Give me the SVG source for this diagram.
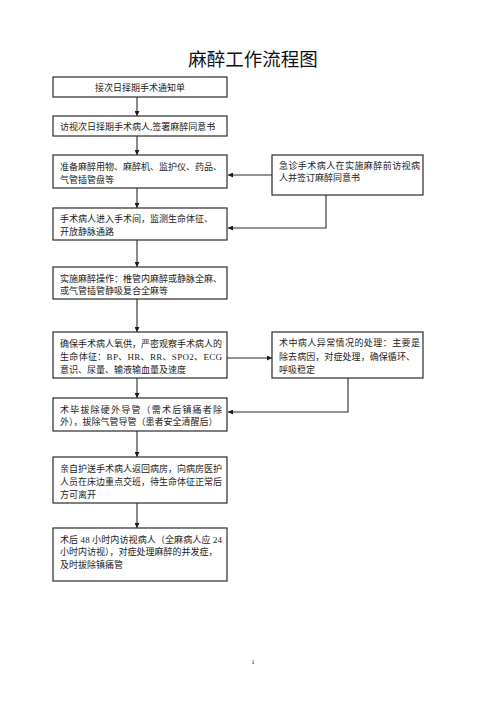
<svg xmlns="http://www.w3.org/2000/svg" width="500" height="707" viewBox="0 0 500 707">
<defs>
<marker id="ah" viewBox="0 0 10 10" refX="10" refY="5" markerWidth="5" markerHeight="5" orient="auto" markerUnits="userSpaceOnUse">
<path d="M0,0 L10,5 L0,10 z" fill="#1a1a1a"/>
</marker>
<style>
.box{fill:#fff;stroke:#2a2a2a;stroke-width:1.2}
.t{font-family:"Liberation Serif","Noto Sans CJK SC",serif;font-size:9px;fill:#222}
.c{fill:none;stroke:#2a2a2a;stroke-width:1.1;marker-end:url(#ah)}
</style>
</defs>
<rect width="500" height="707" fill="#fff"/>
<text x="253" y="66" text-anchor="middle" style="font-family:'Noto Sans CJK SC',sans-serif;font-size:18.5px;fill:#111">麻醉工作流程图</text>

<g id="connectors">
<line class="c" x1="137" y1="97" x2="137" y2="116"/>
<line class="c" x1="137" y1="136" x2="137" y2="155"/>
<line class="c" x1="272" y1="175" x2="228" y2="175"/>
<polyline class="c" points="326,195 326,228 228,228"/>
<line class="c" x1="137" y1="188" x2="137" y2="208"/>
<line class="c" x1="137" y1="240" x2="137" y2="267"/>
<line class="c" x1="137" y1="299" x2="137" y2="332"/>
<line class="c" x1="227" y1="358" x2="272" y2="358"/>
<polyline class="c" points="348,378 348,412 228,412"/>
<line class="c" x1="137" y1="378" x2="137" y2="398"/>
<line class="c" x1="137" y1="431" x2="137" y2="457"/>
<line class="c" x1="137" y1="503" x2="137" y2="528"/>
</g>

<g id="n1">
<rect class="box" x="53" y="77" width="174" height="20"/>
<text class="t" x="140" y="90.5" text-anchor="middle">接次日择期手术通知单</text>
</g>
<g id="n2">
<rect class="box" x="53" y="116" width="174" height="20"/>
<text class="t" x="60" y="130">访视次日择期手术病人,签署麻醉同意书</text>
</g>
<g id="n3">
<rect class="box" x="53" y="155" width="174" height="33"/>
<text class="t" x="60" y="170">准备麻醉用物、麻醉机、监护仪、药品、</text>
<text class="t" x="60" y="182.5">气管插管盘等</text>
</g>
<g id="nA">
<rect class="box" x="272" y="155" width="151" height="40"/>
<text class="t" x="279" y="168.5" textLength="141" lengthAdjust="spacing">急诊手术病人在实施麻醉前访视病</text>
<text class="t" x="279" y="181">人并签订麻醉同意书</text>
</g>
<g id="n4">
<rect class="box" x="53" y="208" width="174" height="32"/>
<text class="t" x="60" y="221.5">手术病人进入手术间，监测生命体征、</text>
<text class="t" x="60" y="235">开放静脉通路</text>
</g>
<g id="n5">
<rect class="box" x="53" y="267" width="174" height="32"/>
<text class="t" x="60" y="281.5">实施麻醉操作：椎管内麻醉或静脉全麻、</text>
<text class="t" x="60" y="293.5">或气管插管静吸复合全麻等</text>
</g>
<g id="n6">
<rect class="box" x="53" y="332" width="174" height="46"/>
<text class="t" x="60" y="346.5">确保手术病人氧供，严密观察手术病人的</text>
<text class="t" x="60" y="359.5" textLength="162" lengthAdjust="spacing">生命体征：BP、HR、RR、SPO2、ECG</text>
<text class="t" x="60" y="372.5">意识、尿量、输液输血量及速度</text>
</g>
<g id="nB">
<rect class="box" x="272" y="332" width="151" height="46"/>
<text class="t" x="279" y="345.5" textLength="141" lengthAdjust="spacing">术中病人异常情况的处理：主要是</text>
<text class="t" x="279" y="359.5" textLength="136" lengthAdjust="spacing">除去病因，对症处理，确保循环、</text>
<text class="t" x="279" y="372.5">呼吸稳定</text>
</g>
<g id="n7">
<rect class="box" x="53" y="398" width="174" height="33"/>
<text class="t" x="60" y="413" textLength="162" lengthAdjust="spacing">术毕拔除硬外导管（需术后镇痛者除</text>
<text class="t" x="60" y="425">外），拔除气管导管（患者安全清醒后）</text>
</g>
<g id="n8">
<rect class="box" x="53" y="457" width="174" height="46"/>
<text class="t" x="60" y="471.5">亲自护送手术病人返回病房，向病房医护</text>
<text class="t" x="60" y="485">人员在床边重点交班，待生命体征正常后</text>
<text class="t" x="60" y="497.5">方可离开</text>
</g>
<g id="n9">
<rect class="box" x="53" y="528" width="174" height="53"/>
<text class="t" x="60" y="542.5" textLength="162" lengthAdjust="spacing">术后 48 小时内访视病人（全麻病人应 24</text>
<text class="t" x="60" y="555">小时内访视），对症处理麻醉的并发症，</text>
<text class="t" x="60" y="567.5">及时拔除镇痛管</text>
</g>
<text x="253" y="664" text-anchor="middle" style="font-family:'Liberation Serif',serif;font-size:7px;fill:#333">1</text>
</svg>
